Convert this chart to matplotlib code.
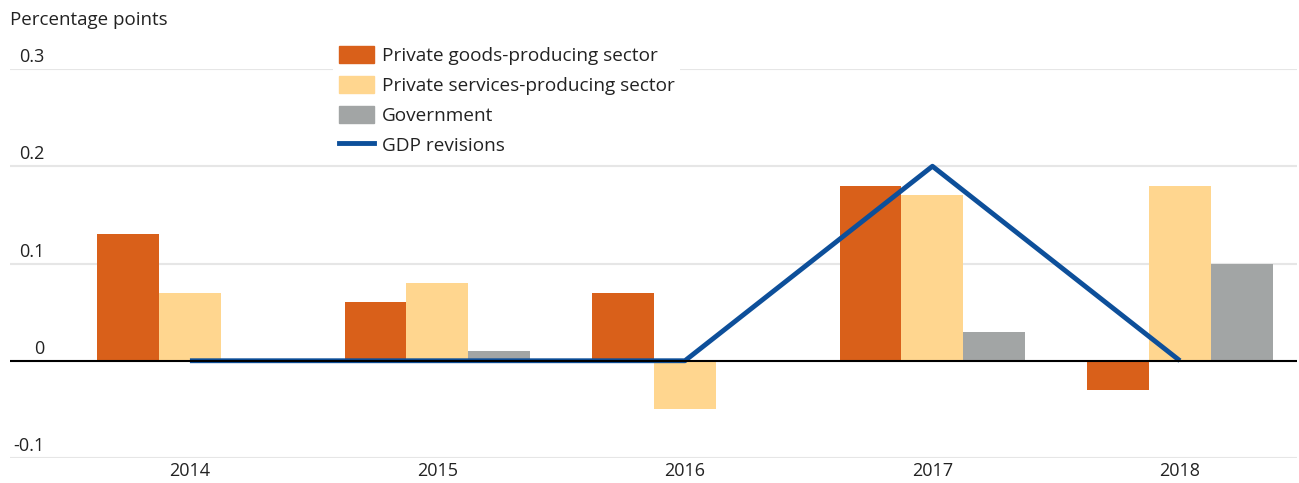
import matplotlib
matplotlib.use("Agg")
import matplotlib.pyplot as plt
import numpy as np
from matplotlib.patches import Patch
from matplotlib.lines import Line2D

years = ["2014", "2015", "2016", "2017", "2018"]
goods = [0.13, 0.06, 0.07, 0.18, -0.03]
services = [0.07, 0.08, -0.05, 0.17, 0.18]
government = [0.0, 0.01, 0.0, 0.03, 0.10]
gdp_revisions = [0.0, 0.0, 0.0, 0.2, 0.0]
yticks = [-0.1, 0, 0.1, 0.2, 0.3]
ytick_labels = ["-0.1", "0", "0.1", "0.2", "0.3"]

c_goods = "#D9601A"
c_serv = "#FFD68F"
c_gov = "#A2A5A5"
c_gdp = "#0D4F9A"

plt.rcParams['font.family'] = ['Open Sans', 'DejaVu Sans']

fig = plt.figure(figsize=(12.99, 4.83), dpi=100)
W, H = 1299, 483
left, right = 10, 1297
top, bottom = 69, 458
ax = fig.add_axes([left / W, (H - bottom) / H, (right - left) / W, (bottom - top) / H])

x = np.arange(len(years))
w = 0.25
ax.bar(x - w, goods, w, color=c_goods, zorder=2)
ax.bar(x, services, w, color=c_serv, zorder=2)
ax.bar(x + w, government, w, color=c_gov, zorder=2)
ax.plot(x, gdp_revisions, color=c_gdp, lw=3.5, zorder=3, solid_capstyle='butt')
ax.axhline(0, color="black", lw=1.5, zorder=4)

ax.set_xlim(-0.727, 4.473)
ax.set_ylim(-0.1, 0.3)
ax.set_yticks(yticks)
ax.set_yticklabels([])
ax.tick_params(axis='y', length=0)
ax.grid(axis='y', color="#E6E6E6", lw=1.5, zorder=0)
ax.set_axisbelow(True)
for s in ax.spines.values():
    s.set_visible(False)
ax.set_xticks(x)
ax.set_xticklabels(years, fontsize=13, color="#222222")
ax.tick_params(axis='x', length=0, pad=3)

for v, lab in zip(yticks, ytick_labels):
    ax.annotate(lab, xy=(0, v), xycoords=('axes fraction', 'data'),
                xytext=(25, 2), textcoords='offset points', ha='right', va='bottom',
                fontsize=13, color="#222222")

fig.text(10 / W, 1 - 20 / H, "Percentage points", fontsize=13.5, color="#222222",
         ha='left', va='center')

handles = [Patch(color=c_goods), Patch(color=c_serv), Patch(color=c_gov),
           Line2D([0], [0], color=c_gdp, lw=3.5)]
labels = ["Private goods-producing sector", "Private services-producing sector",
          "Government", "GDP revisions"]
leg = ax.legend(handles, labels, loc='upper left',
                bbox_to_anchor=(333 / W, 1 - 40 / H), bbox_transform=fig.transFigure,
                fontsize=13.7, frameon=True, facecolor='white', edgecolor='none',
                framealpha=1, fancybox=False, handlelength=1.85, handleheight=1.0,
                labelspacing=0.58, handletextpad=0.4, borderpad=0.3, borderaxespad=0)
leg.set_zorder(5)
for t in leg.get_texts():
    t.set_color("#222222")

fig.savefig("out.png", dpi=100, facecolor='white')
